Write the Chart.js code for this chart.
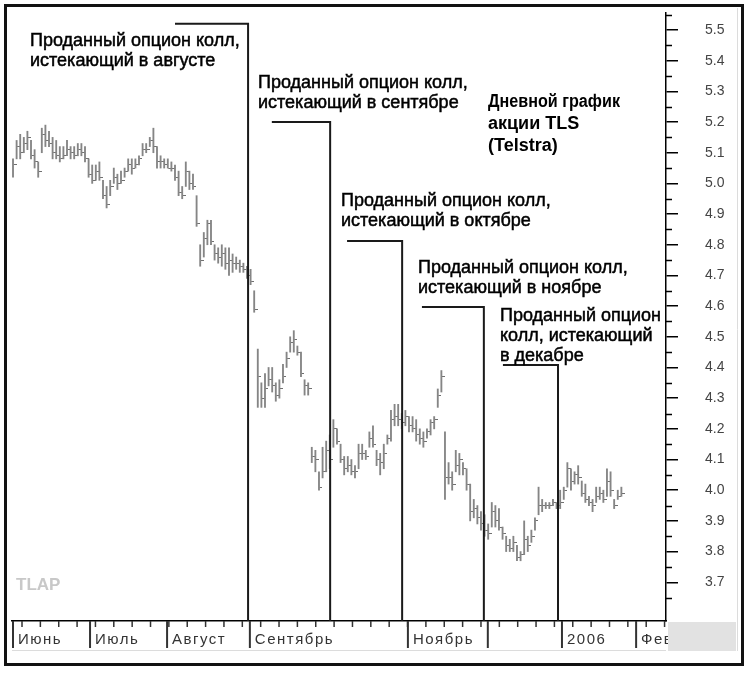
<!DOCTYPE html>
<html>
<head>
<meta charset="utf-8">
<script src="https://cdn.jsdelivr.net/npm/chart.js@4.4.1/dist/chart.umd.min.js"></script>
<style>
  html, body { margin: 0; padding: 0; background: #fff; }
</style>
</head>
<body>
<canvas id="tls" width="750" height="679"></canvas>
<script>
// daily TLS bars, June 2005 .. January 2006 (one entry per trading day)
const highs = [
  5.08, 5.14, 5.16, 5.15, 5.17, 5.14, 5.11, 5.07, 5.18, 5.19,
  5.17, 5.15, 5.14, 5.12, 5.12, 5.14, 5.12, 5.12, 5.13, 5.13,
  5.12, 5.08, 5.06, 5.06, 5.07, 5.01, 4.99, 5.01, 5.05, 5.03,
  5.04, 5.05, 5.08, 5.08, 5.08, 5.09, 5.13, 5.13, 5.15, 5.18,
  5.12, 5.09, 5.08, 5.08, 5.07, 5.06, 5.04, 4.99, 5.07, 5.04,
  5.03, 4.96, 4.80, 4.84, 4.88, 4.88, 4.80, 4.79, 4.80, 4.79,
  4.79, 4.77, 4.76, 4.75, 4.74, 4.73, 4.72, 4.65, 4.46, 4.35,
  4.38, 4.40, 4.40, 4.35, 4.36, 4.41, 4.45, 4.50, 4.52, 4.47,
  4.45, 4.36, 4.35, 4.14, 4.13, 4.06, 4.14, 4.16, 4.18, 4.23,
  4.20, 4.15, 4.11, 4.11, 4.10, 4.08, 4.15, 4.15, 4.13, 4.19,
  4.21, 4.13, 4.12, 4.15, 4.18, 4.26, 4.28, 4.28, 4.25, 4.26,
  4.24, 4.24, 4.23, 4.20, 4.19, 4.20, 4.23, 4.24, 4.33, 4.39,
  4.19, 4.09, 4.06, 4.13, 4.12, 4.09, 4.07, 4.02, 3.97, 3.95,
  3.93, 3.92, 3.89, 3.96, 3.95, 3.94, 3.88, 3.85, 3.84, 3.85,
  3.82, 3.80, 3.90, 3.85, 3.87, 3.91, 4.01, 3.97, 3.96, 3.96,
  3.97, 3.96, 4.00, 4.01, 4.09, 4.07, 4.06, 4.08, 4.03, 4.02,
  3.98, 3.97, 4.01, 4.01, 4.00, 4.07, 4.06, 3.97, 4.00, 4.01
];
const lows = [
  5.02, 5.08, 5.08, 5.10, 5.11, 5.08, 5.05, 5.02, 5.10, 5.12,
  5.12, 5.08, 5.08, 5.07, 5.08, 5.09, 5.08, 5.08, 5.09, 5.09,
  5.07, 5.02, 5.00, 5.01, 5.01, 4.95, 4.92, 4.96, 5.00, 4.98,
  5.00, 5.02, 5.04, 5.03, 5.05, 5.06, 5.09, 5.10, 5.12, 5.10,
  5.05, 5.05, 5.05, 5.05, 5.04, 5.01, 4.96, 4.95, 4.99, 4.98,
  4.98, 4.86, 4.73, 4.76, 4.80, 4.80, 4.75, 4.74, 4.73, 4.72,
  4.70, 4.71, 4.72, 4.71, 4.71, 4.69, 4.67, 4.58, 4.27, 4.27,
  4.27, 4.34, 4.32, 4.29, 4.30, 4.35, 4.40, 4.45, 4.45, 4.44,
  4.37, 4.31, 4.31, 4.09, 4.06, 4.00, 4.04, 4.06, 4.07, 4.14,
  4.15, 4.09, 4.05, 4.06, 4.05, 4.04, 4.07, 4.10, 4.10, 4.14,
  4.14, 4.08, 4.05, 4.07, 4.15, 4.16, 4.21, 4.21, 4.20, 4.21,
  4.19, 4.19, 4.16, 4.15, 4.14, 4.17, 4.18, 4.20, 4.27, 4.32,
  3.97, 4.02, 4.00, 4.06, 4.05, 4.05, 4.00, 3.90, 3.91, 3.89,
  3.87, 3.85, 3.84, 3.88, 3.88, 3.87, 3.84, 3.80, 3.80, 3.80,
  3.77, 3.77, 3.79, 3.80, 3.83, 3.87, 3.92, 3.93, 3.94, 3.94,
  3.95, 3.94, 3.94, 3.97, 4.01, 4.00, 4.02, 4.02, 3.98, 3.96,
  3.95, 3.93, 3.96, 3.97, 3.96, 3.98, 3.98, 3.94, 3.97, 3.98
];
const closes = [
  5.06, 5.12, 5.10, 5.13, 5.15, 5.09, 5.07, 5.04, 5.16, 5.14,
  5.13, 5.10, 5.09, 5.08, 5.09, 5.11, 5.10, 5.09, 5.11, 5.10,
  5.08, 5.03, 5.01, 5.04, 5.02, 4.96, 4.93, 4.99, 5.02, 5.00,
  5.01, 5.04, 5.06, 5.05, 5.06, 5.08, 5.11, 5.11, 5.14, 5.12,
  5.07, 5.07, 5.06, 5.05, 5.05, 5.02, 4.97, 4.96, 5.04, 5.00,
  4.99, 4.87, 4.75, 4.82, 4.87, 4.81, 4.77, 4.76, 4.77, 4.74,
  4.75, 4.74, 4.74, 4.73, 4.72, 4.70, 4.68, 4.59, 4.37, 4.30,
  4.33, 4.36, 4.34, 4.31, 4.33, 4.37, 4.43, 4.48, 4.49, 4.45,
  4.38, 4.34, 4.33, 4.11, 4.10, 4.01, 4.06, 4.13, 4.10, 4.20,
  4.16, 4.10, 4.07, 4.08, 4.06, 4.06, 4.12, 4.12, 4.11, 4.17,
  4.15, 4.10, 4.09, 4.12, 4.17, 4.23, 4.24, 4.23, 4.22, 4.24,
  4.21, 4.20, 4.18, 4.17, 4.16, 4.19, 4.22, 4.23, 4.31, 4.37,
  4.04, 4.04, 4.02, 4.08, 4.10, 4.07, 4.02, 3.93, 3.94, 3.91,
  3.89, 3.87, 3.86, 3.93, 3.90, 3.88, 3.86, 3.82, 3.81, 3.83,
  3.78, 3.79, 3.84, 3.82, 3.85, 3.90, 3.95, 3.95, 3.95, 3.95,
  3.96, 3.95, 3.96, 4.00, 4.07, 4.03, 4.05, 4.04, 3.99, 3.97,
  3.96, 3.95, 3.98, 3.99, 3.97, 4.03, 4.00, 3.95, 3.98, 3.99
];

// month boundaries in trading-day units and their captions
const monthStarts = [0, 21.4, 42.8, 65.8, 109.7, 131.9, 152.5, 173.1];
const monthLabels = ['Июнь', 'Июль', 'Август', 'Сентябрь', 'Ноябрь', '', '2006', 'Фев'];

// sold call expiries: day, price level of the bracket, day where the bracket starts
const expiryDays = [65.3, 88.1, 108.1, 130.8, 151.4];
const expiryTops = [5.52, 5.20, 4.812, 4.597, 4.408];
const legStarts = [45.0, 71.9, 92.8, 113.6, 136.1];
const expiryNotes = [
  ['Проданный опцион колл,', 'истекающий в августе'],
  ['Проданный опцион колл,', 'истекающий в сентябре'],
  ['Проданный опцион колл,', 'истекающий в октябре'],
  ['Проданный опцион колл,', 'истекающий в ноябре'],
  ['Проданный опцион', 'колл, истекающий', 'в декабре']
];
const titleLines = ['Дневной график', 'акции TLS', '(Telstra)'];

// where the note text sits (pixels), and title line widths
const noteAnchors = [[30, 46], [258, 88], [341, 206], [418, 273], [500, 321]];
const titleWidths = [132, 110, 90];

const FONT = "'Liberation Sans', Arial, sans-serif";

// right-hand close tick used as point style
const closeTick = document.createElement('canvas');
closeTick.width = 7;
closeTick.height = 1;
const tctx = closeTick.getContext('2d');
tctx.fillStyle = '#707070';
tctx.fillRect(4, 0, 3, 1);

const rangeBars = highs.map((h, i) => ({ x: i, y: [lows[i], h] }));
const closePoints = closes.map((c, i) => ({ x: i, y: c }));

const minorTicks = {
    id: 'minorTicks',
    afterDraw(chart) {
        const { ctx, scales: { y } } = chart;
        ctx.save();
        ctx.strokeStyle = '#000';
        ctx.lineWidth = 1.5;
        for (let v = 3.65; v < 5.56; v += 0.1) {
            const py = Math.round(y.getPixelForValue(v)) + 0.5;
            ctx.beginPath();
            ctx.moveTo(y.left, py);
            ctx.lineTo(y.left + 6, py);
            ctx.stroke();
        }
        ctx.restore();
    }
};

const monthRow = {
    id: 'monthRow',
    afterDraw(chart) {
        const { ctx, chartArea, scales: { x } } = chart;
        const top = chartArea.bottom;
        ctx.save();
        // weekly ticks
        ctx.strokeStyle = '#333';
        ctx.lineWidth = 1.5;
        for (let d = 2.5; d < 181; d += 5.1) {
            const px = x.getPixelForValue(d);
            ctx.beginPath();
            ctx.moveTo(px, top);
            ctx.lineTo(px, top + 6);
            ctx.stroke();
        }
        // month separators and captions
        ctx.lineWidth = 2;
        ctx.fillStyle = '#333';
        ctx.font = '15px ' + FONT;
        ctx.letterSpacing = '1.5px';
        ctx.textBaseline = 'alphabetic';
        monthStarts.forEach((d, k) => {
            const px = x.getPixelForValue(d);
            ctx.beginPath();
            ctx.moveTo(px, top);
            ctx.lineTo(px, top + 27);
            ctx.stroke();
            ctx.fillText(monthLabels[k], px + 5, top + 23);
        });
        ctx.letterSpacing = '0px';
        // faint line under the captions and grey corner box
        ctx.strokeStyle = '#dcdcdc';
        ctx.lineWidth = 1;
        ctx.beginPath();
        ctx.moveTo(chartArea.left, top + 29.5);
        ctx.lineTo(chartArea.right, top + 29.5);
        ctx.moveTo(737.5, 8);
        ctx.lineTo(737.5, top + 30);
        ctx.stroke();
        ctx.fillStyle = '#e2e2e2';
        ctx.fillRect(chartArea.right + 2, top + 1, 736 - chartArea.right - 2, 29);
        // outer frame
        ctx.strokeStyle = '#111';
        ctx.lineWidth = 3;
        ctx.strokeRect(5.5, 5.5, 737, 659);
        ctx.restore();
    }
};

const notes = {
    id: 'notes',
    afterDatasetsDraw(chart) {
        const { ctx, chartArea, scales: { x, y } } = chart;
        ctx.save();
        ctx.strokeStyle = '#1a1a1a';
        ctx.lineWidth = 2;
        expiryDays.forEach((d, k) => {
            const px = x.getPixelForValue(d);
            const py = y.getPixelForValue(expiryTops[k]);
            ctx.beginPath();
            ctx.moveTo(x.getPixelForValue(legStarts[k]), py);
            ctx.lineTo(px, py);
            ctx.lineTo(px, chartArea.bottom);
            ctx.stroke();
        });
        ctx.fillStyle = '#000';
        ctx.strokeStyle = '#000';
        ctx.lineWidth = 0.5;
        ctx.font = '18px ' + FONT;
        ctx.textBaseline = 'alphabetic';
        expiryNotes.forEach((lines, k) => {
            const [ax, ay] = noteAnchors[k];
            lines.forEach((t, j) => {
                ctx.fillText(t, ax, ay + j * 20);
                ctx.strokeText(t, ax, ay + j * 20);
            });
        });
        ctx.font = 'bold 18px ' + FONT;
        titleLines.forEach((t, j) => ctx.fillText(t, 488, 107 + j * 22, titleWidths[j]));
        ctx.fillStyle = '#c8c8c8';
        ctx.font = 'bold 17px ' + FONT;
        ctx.fillText('TLAP', 16, 590);
        ctx.restore();
    }
};

new Chart(document.getElementById('tls'), {
    type: 'bar',
    data: {
        datasets: [
            {
                type: 'bar',
                data: rangeBars,
                backgroundColor: '#858585',
                borderWidth: 0,
                barThickness: 1.2,
                grouped: false
            },
            {
                type: 'scatter',
                data: closePoints,
                pointStyle: closeTick,
                radius: 3,
                hoverRadius: 3
            }
        ]
    },
    options: {
        responsive: false,
        devicePixelRatio: 1,
        animation: false,
        layout: { padding: { left: 12, top: 13, right: 14, bottom: 28 } },
        plugins: { legend: { display: false }, tooltip: { enabled: false } },
        scales: {
            x: {
                type: 'linear',
                min: -0.28,
                max: 181.4,
                offset: false,
                grid: { display: false, drawTicks: false },
                border: { display: true, color: '#000', width: 1.5 },
                ticks: { display: false },
                afterFit: s => { s.height = 30; }
            },
            y: {
                type: 'linear',
                position: 'right',
                min: 3.5737,
                max: 5.5554,
                border: { display: true, color: '#000', width: 1.5 },
                grid: { drawOnChartArea: false, drawTicks: true, tickLength: 12, color: '#000', lineWidth: 1.5 },
                ticks: {
                    stepSize: 0.1,
                    includeBounds: false,
                    padding: 27,
                    color: '#444',
                    font: { family: FONT, size: 14 },
                    callback: v => v < 3.65 ? null : v.toFixed(1)
                },
                afterFit: s => {
                    s.width = 70;
                    s.paddingTop = 0;
                    s.paddingBottom = 0;
                }
            }
        }
    },
    plugins: [minorTicks, notes, monthRow]
});
</script>
</body>
</html>
